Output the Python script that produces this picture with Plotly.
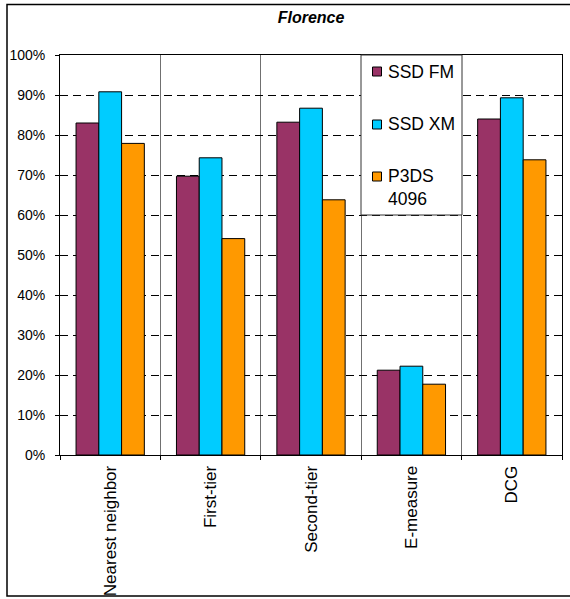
import plotly.graph_objects as go

# Retrieval scores per measure, in percent
categories = ["Nearest neighbor", "First-tier", "Second-tier", "E-measure", "DCG"]
series_names = ["SSD FM", "SSD XM", "P3DS 4096"]
legend_labels = ["SSD FM", "SSD XM", "P3DS<br>4096"]
ssd_fm = [83.0, 69.7, 83.2, 21.2, 84.0]
ssd_xm = [90.8, 74.3, 86.7, 22.2, 89.3]
p3ds_4096 = [77.9, 54.1, 63.8, 17.7, 73.8]
series_values = [ssd_fm, ssd_xm, p3ds_4096]
colors = ["#993366", "#00CCFF", "#FF9900"]
y_ticks = list(range(0, 101, 10))
title_text = "Florence"

FONT = "Arial, Liberation Sans, sans-serif"
W, H = 570, 599
L, R, T, B = 60, 8, 55, 144
PW, PH = W - L - R, H - T - B


def px(x):
    """Pixel column -> paper x."""
    return (x - L) / PW


def py(y):
    """Pixel row -> paper y."""
    return (H - B - y) / PH


fig = go.Figure()
for name, vals, col in zip(series_names, series_values, colors):
    fig.add_trace(go.Bar(
        x=categories, y=vals, name=name,
        marker=dict(color=col, line=dict(color="black", width=1)),
        showlegend=False,
    ))

shapes = [
    # outer chart frame (runs off the right edge of the page)
    dict(type="rect", xref="paper", yref="paper",
         x0=px(7), x1=px(590), y0=py(596), y1=py(4.5),
         line=dict(color="black", width=1.5), layer="below"),
    # legend box
    dict(type="rect", xref="paper", yref="paper",
         x0=px(361), x1=px(462), y0=py(215), y1=py(55),
         line=dict(color="#333333", width=1), fillcolor="white", layer="above"),
]
annotations = []
legend_rows = [71.5, 124.5, 176.5]
for i, (lab, col) in enumerate(zip(legend_labels, colors)):
    yc = legend_rows[i]
    shapes.append(dict(type="rect", xref="paper", yref="paper",
                       x0=px(372.5), x1=px(381.5), y0=py(yc + 4.5), y1=py(yc - 4.5),
                       line=dict(color="black", width=1), fillcolor=col, layer="above"))
    nlines = lab.count("<br>") + 1
    ymid = yc + (nlines - 1) * 21.6 / 2
    annotations.append(dict(
        xref="paper", yref="paper", x=px(386), y=py(ymid),
        xanchor="left", yanchor="middle", align="left", showarrow=False,
        text=lab, font=dict(family=FONT, size=17.5, color="black"),
    ))

fig.update_layout(
    width=W, height=H,
    margin=dict(l=L, r=R, t=T, b=B, autoexpand=False),
    paper_bgcolor="white", plot_bgcolor="white",
    barmode="group", bargap=0.32, bargroupgap=0,
    title=dict(text=f"<b><i>{title_text}</i></b>", x=0.5, xref="paper",
               y=1 - 17 / H, yref="container", yanchor="middle", xanchor="center",
               font=dict(family=FONT, size=16, color="black")),
    font=dict(family=FONT, color="black"),
    shapes=shapes, annotations=annotations,
    showlegend=False,
)
fig.update_xaxes(
    type="category", tickson="boundaries", ticks="outside", ticklen=4,
    tickcolor="black", tickangle=-90, ticklabelstandoff=3, automargin=False,
    tickfont=dict(family=FONT, size=17, color="black"),
    showgrid=True, gridcolor="#707070", gridwidth=1,
    showline=True, linecolor="black", linewidth=1, mirror=True,
)
fig.update_yaxes(
    range=[0, 100], tickvals=y_ticks, ticktext=[f"{v}%" for v in y_ticks],
    ticks="outside", ticklen=4, tickcolor="black", ticklabelstandoff=7,
    automargin=False,
    tickfont=dict(family=FONT, size=14, color="black"),
    showgrid=True, gridcolor="black", gridwidth=1, griddash="8px,5px",
    zeroline=False,
    showline=True, linecolor="black", linewidth=1, mirror=True,
)

fig.write_html("out.html")
